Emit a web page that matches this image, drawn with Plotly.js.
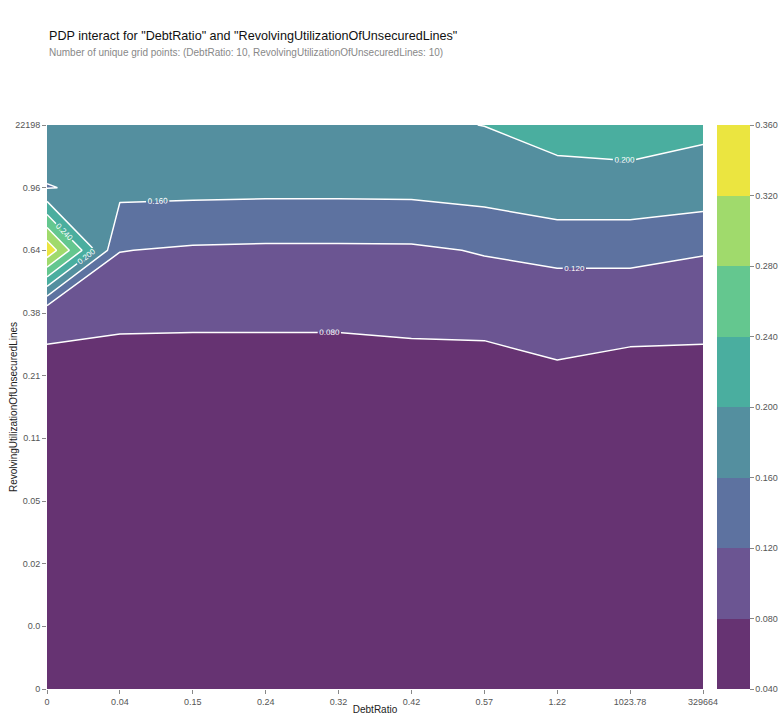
<!DOCTYPE html>
<html>
<head>
<meta charset="utf-8">
<script src="https://cdn.plot.ly/plotly-3.0.1.min.js"></script>
<style>
  body { margin: 0; background: #fff; }
  #chart { width: 782px; height: 720px; }
</style>
</head>
<body>
<div id="chart"></div>
<script>
// grid points of the two features
const debtRatioGrid = ['0', '0.04', '0.15', '0.24', '0.32', '0.42', '0.57', '1.22', '1023.78', '329664'];
const revolvingGrid = ['0', '0.0', '0.02', '0.05', '0.11', '0.21', '0.38', '0.64', '0.96', '22198'];

// partial dependence, one array per RevolvingUtilization grid point (bottom -> top),
// values along DebtRatio grid points
const pdpRev0 = [0.052, 0.051, 0.050, 0.050, 0.050, 0.050, 0.051, 0.053, 0.052, 0.052];
const pdpRev1 = [0.053, 0.052, 0.051, 0.051, 0.051, 0.051, 0.052, 0.054, 0.053, 0.053];
const pdpRev2 = [0.055, 0.054, 0.052, 0.052, 0.052, 0.052, 0.053, 0.056, 0.054, 0.055];
const pdpRev3 = [0.058, 0.056, 0.054, 0.054, 0.054, 0.054, 0.055, 0.059, 0.056, 0.057];
const pdpRev4 = [0.062, 0.060, 0.056, 0.056, 0.056, 0.056, 0.058, 0.064, 0.059, 0.061];
const pdpRev5 = [0.070, 0.066, 0.058, 0.058, 0.058, 0.058, 0.061, 0.075, 0.063, 0.070];
const pdpRev6 = [0.090, 0.087, 0.090, 0.090, 0.090, 0.095, 0.095, 0.095, 0.100, 0.090];
const pdpRev7 = [0.350, 0.121, 0.1156, 0.1138, 0.1138, 0.1144, 0.1225, 0.130, 0.128, 0.123];
const pdpRev8 = [0.158, 0.172, 0.1711, 0.170, 0.170, 0.1707, 0.1768, 0.1915, 0.1935, 0.1827];
const pdpRev9 = [0.190, 0.190, 0.190, 0.190, 0.190, 0.195, 0.2005, 0.208, 0.2086, 0.2078];

const pdpRows = [pdpRev0, pdpRev1, pdpRev2, pdpRev3, pdpRev4, pdpRev5, pdpRev6, pdpRev7, pdpRev8, pdpRev9];

// contour levels and the colour of each band (0.04-0.08 ... 0.32-0.36)
const levelStart = 0.08, levelEnd = 0.32, levelStep = 0.04;
const barMin = 0.04, barMax = 0.36;
const bandColors = ['#663372', '#6b5592', '#5d72a0', '#548f9f', '#4aae9f', '#64c78f', '#a0da6c', '#ebe540'];

// contour fills are sampled at i/7 -> step boundaries at (i+0.5)/7
function contourScale(cols) {
  const n = cols.length - 1, out = [];
  cols.forEach((c, i) => {
    const lo = i === 0 ? 0 : (i - 0.5) / n;
    const hi = i === n ? 1 : (i + 0.5) / n;
    out.push([lo, c], [hi, c]);
  });
  return out;
}
// colorbar: equal bands over barMin..barMax
function barScale(cols) {
  const n = cols.length, out = [];
  cols.forEach((c, i) => { out.push([i / n, c], [(i + 1) / n, c]); });
  return out;
}

const font = 'Arial, "Liberation Sans", sans-serif';
const xIdx = debtRatioGrid.map((_, i) => i);
const yIdx = revolvingGrid.map((_, i) => i);

const contour = {
  type: 'contour',
  x: xIdx, y: yIdx, z: pdpRows,
  colorscale: contourScale(bandColors),
  showscale: false,
  contours: {
    start: levelStart, end: levelEnd, size: levelStep, coloring: 'fill',
    showlabels: true, labelformat: '.3f',
    labelfont: { family: font, size: 8, color: '#fff' }
  },
  line: { color: '#fff', width: 1.5, smoothing: 0 },
  hoverinfo: 'skip'
};

// carries the banded colour bar only
const scaleHolder = {
  type: 'scatter', mode: 'markers',
  x: [null], y: [null],
  marker: {
    color: [barMin], cmin: barMin, cmax: barMax,
    colorscale: barScale(bandColors), showscale: true,
    colorbar: {
      xref: 'container', x: 717 / 782, xanchor: 'left', xpad: 0, ypad: 0,
      len: 1, thickness: 33, outlinewidth: 0,
      tick0: barMin, dtick: levelStep, tickformat: '.3f',
      ticks: 'outside', ticklen: 4, tickcolor: '#888',
      tickfont: { family: font, size: 9, color: '#555' }
    }
  },
  showlegend: false, hoverinfo: 'skip'
};

const layout = {
  width: 782, height: 720,
  paper_bgcolor: '#fff', plot_bgcolor: '#fff',
  margin: { l: 47, r: 79, t: 125, b: 31 },
  font: { family: font, color: '#333' },
  showlegend: false,
  annotations: [
    {
      text: 'PDP interact for "DebtRatio" and "RevolvingUtilizationOfUnsecuredLines"',
      xref: 'paper', yref: 'paper', x: 0, y: (689 - 36) / 564,
      xanchor: 'left', yanchor: 'middle', showarrow: false,
      font: { family: font, size: 12.6, color: '#111' }
    },
    {
      text: 'Number of unique grid points: (DebtRatio: 10, RevolvingUtilizationOfUnsecuredLines: 10)',
      xref: 'paper', yref: 'paper', x: 0, y: (689 - 52) / 564,
      xanchor: 'left', yanchor: 'middle', showarrow: false,
      font: { family: font, size: 10, color: '#888' }
    }
  ],
  xaxis: {
    range: [0, 9], tickvals: xIdx, ticktext: debtRatioGrid,
    showgrid: false, zeroline: false, showline: false,
    ticks: 'outside', ticklen: 4, tickcolor: '#888',
    tickfont: { family: font, size: 9, color: '#555' },
    title: { text: 'DebtRatio', font: { family: font, size: 10, color: '#222' }, standoff: 0 }
  },
  yaxis: {
    range: [0, 9], tickvals: yIdx, ticktext: revolvingGrid,
    showgrid: false, zeroline: false, showline: false,
    ticks: 'outside', ticklen: 4, tickcolor: '#888',
    tickfont: { family: font, size: 9, color: '#555' },
    title: { text: 'RevolvingUtilizationOfUnsecuredLines', font: { family: font, size: 10, color: '#222' } }
  }
};

Plotly.newPlot('chart', [contour, scaleHolder], layout, { displayModeBar: false, staticPlot: true });
</script>
</body>
</html>
